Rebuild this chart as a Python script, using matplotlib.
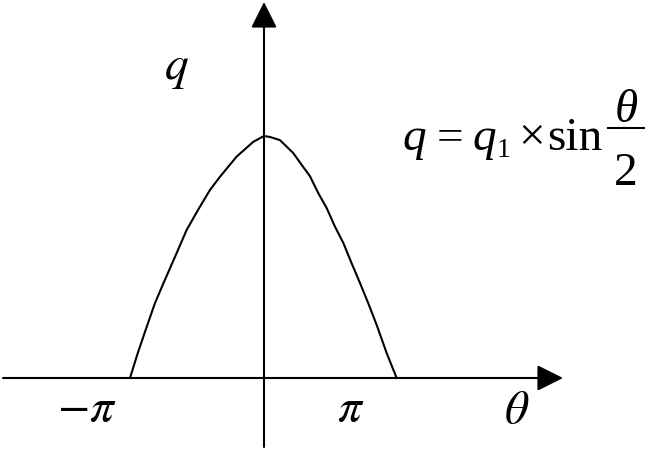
import numpy as np
import matplotlib.pyplot as plt

plt.rcParams['mathtext.fontset'] = 'stix'
plt.rcParams['font.family'] = ['Liberation Serif', 'DejaVu Serif']

# curve: theta in units of pi, q relative to q1
theta = [-1.0, -0.942, -0.875, -0.814, -0.751, -0.664, -0.577, -0.493,
         -0.403, -0.328, -0.204, -0.080, 0.0,
         0.045, 0.119, 0.219, 0.282, 0.343, 0.406, 0.468, 0.530, 0.592,
         0.654, 0.716, 0.778, 0.841, 0.916, 0.990]
q = [0.0, 0.103, 0.212, 0.309, 0.391, 0.501, 0.612, 0.694,
     0.777, 0.832, 0.915, 0.976, 1.0,
     0.996, 0.983, 0.929, 0.880, 0.834, 0.763, 0.702, 0.625, 0.558,
     0.474, 0.393, 0.309, 0.219, 0.102, 0.0]

tick_pos = [-1.32, 0.65]
tick_lbl = [r'$-\pi$', r'$\pi$']

# formula pieces on the main line: text, left edge (px), italic?
formula = ['q', '=', 'q', '\u00d7', 'sin']
formula_x = [402, 437, 472, 518, 547]
formula_it = [True, False, True, False, False]

W, H = 646, 451
x0, y0 = 264, 378       # origin in pixels
sx, sy = 134.0, 242.0   # pixels per pi / per q1

def px(x):  # pixel -> data
    return (x - x0) / sx
def py(y):
    return (y0 - y) / sy

fig = plt.figure(figsize=(W / 100, H / 100), dpi=100)
ax = fig.add_axes([0, 0, 1, 1])
ax.set_xlim(px(0), px(W))
ax.set_ylim(py(H), py(0))
ax.axis('off')

arrow = dict(arrowstyle='-|>,head_length=1.6,head_width=0.8', mutation_scale=10,
             color='black', lw=1.5, shrinkA=0, shrinkB=0)
ax.annotate('', xy=(px(563), 0), xytext=(px(3), 0), arrowprops=arrow)
ax.annotate('', xy=(0, py(2)), xytext=(0, py(447)), arrowprops=arrow)

ax.plot(theta, q, color='black', lw=1.5, solid_joinstyle='round')

fs = 34
for t, lbl in zip(tick_pos, tick_lbl):
    ax.text(t, py(410), lbl, fontsize=fs, ha='center', va='center')
ax.text(px(517), py(412), r'$\theta$', fontsize=fs, ha='center', va='center')
ax.text(px(176), py(70), r'$q$', fontsize=fs, ha='center', va='center')

# formula: baseline of the main line at about y=150 px
for s, xl, it in zip(formula, formula_x, formula_it):
    ax.text(px(xl), py(150), s, fontsize=fs, ha='left', va='baseline',
            style='italic' if it else 'normal')
ax.text(px(497), py(157), '1', fontsize=20, ha='left', va='baseline')
# fraction theta / 2
ax.text(px(626), py(122), '\u03b8', fontsize=fs, ha='center', va='baseline',
        style='italic')
ax.plot([px(608), px(644)], [py(128), py(128)], color='black', lw=1.5)
ax.text(px(626), py(185), '2', fontsize=fs, ha='center', va='baseline')

fig.savefig('out.png', dpi=100)
